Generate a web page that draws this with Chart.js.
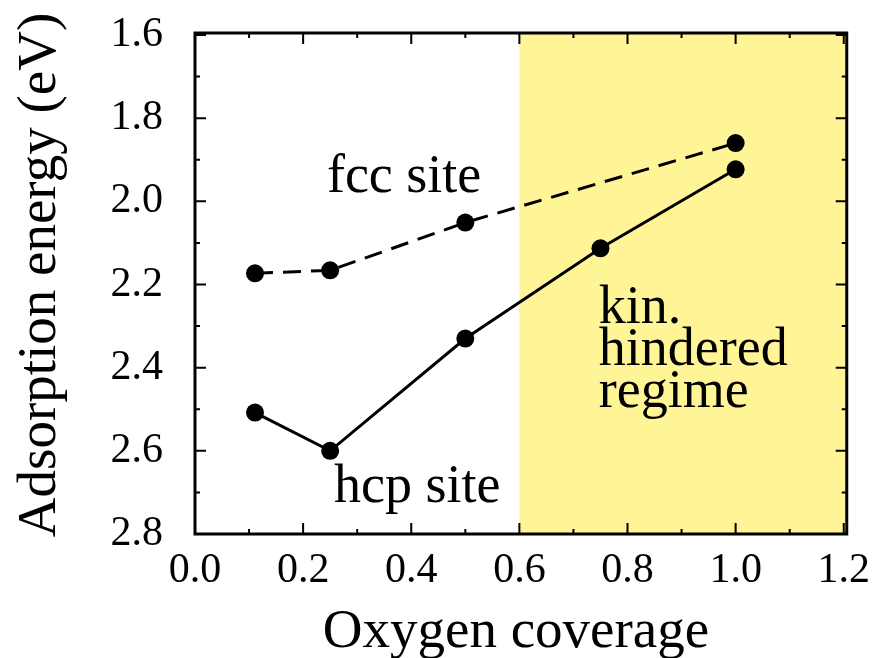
<!DOCTYPE html>
<html>
<head>
<meta charset="utf-8">
<script src="https://cdn.jsdelivr.net/npm/chart.js@4/dist/chart.umd.min.js"></script>
<style>
  html, body { margin: 0; padding: 0; background: #fff; }
  #wrap { width: 882px; height: 658px; }
</style>
</head>
<body>
<div id="wrap"><canvas id="energy-chart" width="882" height="658"></canvas></div>
<script>
// Data
var coverageFcc = [0.111, 0.25, 0.5, 1.0];
var energyFcc = [2.173, 2.166, 2.051, 1.86];
var coverageHcp = [0.111, 0.25, 0.5, 0.75, 1.0];
var energyHcp = [2.508, 2.60, 2.33, 2.113, 1.923];

var xTickValues = [0.0, 0.2, 0.4, 0.6, 0.8, 1.0, 1.2];
var xTickLabels = ['0.0', '0.2', '0.4', '0.6', '0.8', '1.0', '1.2'];
var xMinorTicks = [0.1, 0.3, 0.5, 0.7, 0.9, 1.1];
var yTickValues = [1.6, 1.8, 2.0, 2.2, 2.4, 2.6, 2.8];
var yTickLabels = ['1.6', '1.8', '2.0', '2.2', '2.4', '2.6', '2.8'];
var yMinorTicks = [1.7, 1.9, 2.1, 2.3, 2.5, 2.7];

// shaded "kinetically hindered" range of coverage
var regimeRange = [0.6, 1.2];

var SERIF = '"Liberation Serif", "Times New Roman", serif';
var PLOT_TOP = 35;

function toPoints(xs, ys) {
    return xs.map(function (x, i) { return { x: x, y: ys[i] }; });
}

var framePlugin = {
    id: 'frame',
    beforeDatasetsDraw: function (chart) {
        var ctx = chart.ctx, a = chart.chartArea, xs = chart.scales.x;
        var x0 = xs.getPixelForValue(regimeRange[0]);
        var x1 = xs.getPixelForValue(regimeRange[1]);
        ctx.save();
        ctx.fillStyle = '#fff596';
        ctx.fillRect(x0, a.top - 3, x1 - x0 + 3, a.bottom - a.top + 3);
        ctx.restore();
    },
    afterDatasetsDraw: function (chart) {
        var ctx = chart.ctx, a = chart.chartArea;
        var xs = chart.scales.x, ys = chart.scales.y;
        var top = a.top - 2, right = a.right + 3;
        ctx.save();
        ctx.strokeStyle = '#000';
        ctx.lineWidth = 2;
        ctx.beginPath();
        function tickX(v, len) {
            var p = xs.getPixelForValue(v);
            ctx.moveTo(p, a.bottom); ctx.lineTo(p, a.bottom - len);
            ctx.moveTo(p, top); ctx.lineTo(p, top + len);
        }
        function tickY(v, len) {
            var p = ys.getPixelForValue(v);
            ctx.moveTo(a.left, p); ctx.lineTo(a.left + len, p);
            ctx.moveTo(right, p); ctx.lineTo(right - len, p);
        }
        xTickValues.forEach(function (v) { tickX(v, 11); });
        xMinorTicks.forEach(function (v) { tickX(v, 5); });
        yTickValues.forEach(function (v) { tickY(v, 11); });
        yMinorTicks.forEach(function (v) { tickY(v, 5); });
        ctx.stroke();
        ctx.lineWidth = 3;
        ctx.strokeRect(a.left, top, right - a.left, a.bottom - top);
        ctx.restore();
    },
    afterDraw: function (chart) {
        var ctx = chart.ctx;
        var xs = chart.scales.x, ys = chart.scales.y;
        ctx.save();
        ctx.fillStyle = '#000';
        ctx.textBaseline = 'alphabetic';

        // axis titles
        ctx.font = '55px ' + SERIF;
        ctx.textAlign = 'center';
        ctx.fillText('Oxygen coverage', 516, 647);
        ctx.save();
        ctx.translate(55, 275);
        ctx.rotate(-Math.PI / 2);
        ctx.fillText('Adsorption energy (eV)', 0, 0);
        ctx.restore();

        // labels inside the plot
        ctx.font = '54px ' + SERIF;
        ctx.textAlign = 'left';
        ctx.fillText('fcc site', xs.getPixelForValue(0.244), ys.getPixelForValue(1.978));
        ctx.fillText('hcp site', xs.getPixelForValue(0.257), ys.getPixelForValue(2.723));
        var kx = xs.getPixelForValue(0.747);
        ctx.fillText('kin.', kx, ys.getPixelForValue(2.292));
        ctx.fillText('hindered', kx, ys.getPixelForValue(2.393));
        ctx.fillText('regime', kx, ys.getPixelForValue(2.494));
        ctx.restore();
    }
};

var chart = new Chart(document.getElementById('energy-chart').getContext('2d'), {
    type: 'scatter',
    data: {
        datasets: [{
            label: 'fcc site',
            data: toPoints(coverageFcc, energyFcc),
            showLine: true,
            borderColor: '#000',
            backgroundColor: '#000',
            borderWidth: 3,
            borderDash: [18, 10],
            pointRadius: 9,
            pointBorderWidth: 0,
            pointBackgroundColor: '#000'
        }, {
            label: 'hcp site',
            data: toPoints(coverageHcp, energyHcp),
            showLine: true,
            borderColor: '#000',
            backgroundColor: '#000',
            borderWidth: 3,
            pointRadius: 9,
            pointBorderWidth: 0,
            pointBackgroundColor: '#000'
        }]
    },
    options: {
        responsive: false,
        animation: false,
        devicePixelRatio: 1,
        layout: { padding: { left: 0, top: 0, right: 34, bottom: 0 } },
        plugins: { legend: { display: false }, tooltip: { enabled: false } },
        scales: {
            x: {
                type: 'linear',
                min: 0, max: 1.2,
                afterBuildTicks: function (s) { s.ticks = xTickValues.map(function (v) { return { value: v }; }); },
                afterFit: function (s) { s.height = 124; },
                ticks: {
                    color: '#000',
                    font: { family: SERIF, size: 42 },
                    padding: 12,
                    maxRotation: 0,
                    callback: function (v, i) { return xTickLabels[i]; }
                },
                grid: { display: false, drawTicks: false },
                border: { display: false }
            },
            y: {
                type: 'linear',
                reverse: true,
                min: 1.6, max: 2.8,
                afterBuildTicks: function (s) { s.ticks = yTickValues.map(function (v) { return { value: v }; }); },
                afterFit: function (s) {
                    s.width = 195;
                    // pin the plot top regardless of label overhang
                    s.paddingTop = PLOT_TOP;
                },
                ticks: {
                    color: '#000',
                    font: { family: SERIF, size: 42 },
                    padding: 32,
                    callback: function (v, i) { return yTickLabels[i]; }
                },
                grid: { display: false, drawTicks: false },
                border: { display: false }
            }
        }
    },
    plugins: [framePlugin]
});
</script>
</body>
</html>
